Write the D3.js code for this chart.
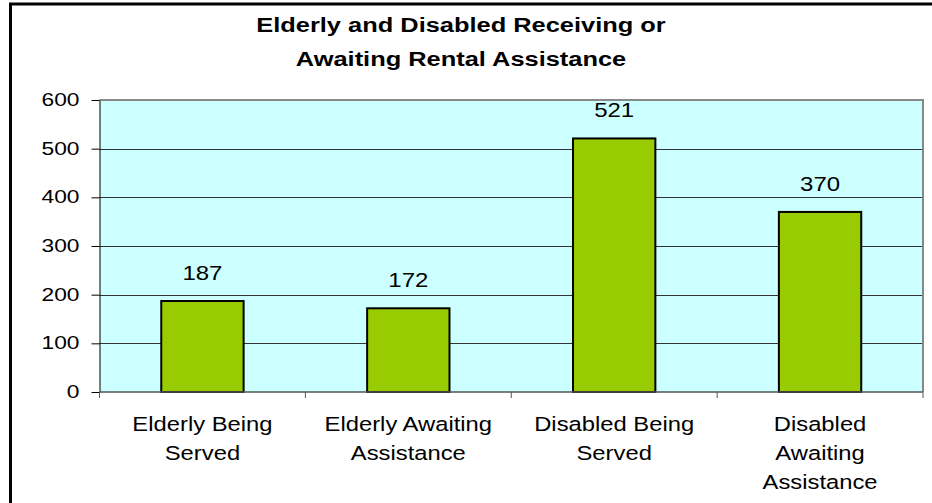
<!DOCTYPE html>
<html>
<head>
<meta charset="utf-8">
<script src="https://cdn.jsdelivr.net/npm/d3@7"></script>
<style>
  html, body { margin: 0; padding: 0; background: #fff; }
  svg { display: block; font-family: Arial, "Liberation Sans", sans-serif; }
</style>
</head>
<body>
<svg id="chart" width="932" height="503"></svg>
<script>
// Data
const categories = [
  ["Elderly Being", "Served"],
  ["Elderly Awaiting", "Assistance"],
  ["Disabled Being", "Served"],
  ["Disabled", "Awaiting", "Assistance"]
];
const values = [187, 172, 521, 370];
const yTicks = [0, 100, 200, 300, 400, 500, 600];
const titleLines = ["Elderly and Disabled Receiving or", "Awaiting Rental Assistance"];

const svg = d3.select("#chart");
const plot = { left: 99.5, right: 923, top: 100, bottom: 392 };
const stretch = 1.22; // wide glyph rendering of the chart text

// Outer chart frame
svg.append("rect")
  .attr("x", 10.5).attr("y", 4)
  .attr("width", 1000).attr("height", 700)
  .attr("fill", "#fff")
  .attr("stroke", "#000").attr("stroke-width", 3);

// Title
titleLines.forEach((t, i) => {
  svg.append("g")
    .attr("transform", `translate(461,${32 + i * 34}) scale(1.24,1)`)
    .append("text")
    .attr("text-anchor", "middle")
    .attr("font-size", 20.5)
    .attr("font-weight", "bold")
    .attr("fill", "#000")
    .text(t);
});

const idx = values.map((_, i) => i);
const x = d3.scaleBand().domain(idx).range([plot.left, plot.right])
  .paddingInner(0.6).paddingOuter(0.3);
const y = d3.scaleLinear().domain([0, 600]).range([plot.bottom, plot.top]);

// Plot area background
svg.append("rect")
  .attr("x", plot.left).attr("y", plot.top)
  .attr("width", plot.right - plot.left).attr("height", plot.bottom - plot.top)
  .attr("fill", "#CCFFFF");

// Gridlines
svg.append("g")
  .selectAll("line")
  .data(yTicks.filter(d => d > 0 && d < 600))
  .join("line")
  .attr("x1", plot.left).attr("x2", plot.right)
  .attr("y1", d => Math.round(y(d)) + 0.5).attr("y2", d => Math.round(y(d)) + 0.5)
  .attr("stroke", "#333").attr("stroke-width", 1);

// Plot area border (top/right)
svg.append("path")
  .attr("d", `M${plot.left},${plot.top}H${plot.right}V${plot.bottom}`)
  .attr("fill", "none").attr("stroke", "#888").attr("stroke-width", 2);

// Bars
svg.append("g")
  .selectAll("rect")
  .data(values)
  .join("rect")
  .attr("x", (d, i) => x(i))
  .attr("y", d => y(d))
  .attr("width", x.bandwidth())
  .attr("height", d => y(0) - y(d))
  .attr("fill", "#99CC00")
  .attr("stroke", "#000").attr("stroke-width", 2);

// Value labels
svg.append("g")
  .selectAll("g")
  .data(values)
  .join("g")
  .attr("transform", (d, i) => `translate(${x(i) + x.bandwidth() / 2},${y(d) - 21}) scale(1.2,1)`)
  .append("text")
  .attr("text-anchor", "middle")
  .attr("font-size", 20)
  .attr("fill", "#000")
  .text(d => d);

// Y axis
const yAxis = svg.append("g")
  .attr("transform", `translate(${plot.left},0)`)
  .call(d3.axisLeft(y).tickValues(yTicks).tickSize(8).tickSizeOuter(0));
yAxis.select(".domain").attr("stroke", "#000");
yAxis.selectAll(".tick line").attr("stroke", "#000");
yAxis.selectAll(".tick text")
  .attr("x", 0)
  .attr("dy", 0)
  .attr("transform", `translate(-20,5.5) scale(1.23,1)`)
  .attr("text-anchor", "end")
  .attr("font-size", 18.5)
  .attr("font-family", "Arial, 'Liberation Sans', sans-serif")
  .attr("fill", "#000");

// X axis with tick marks on the category boundaries
const boundaries = d3.range(categories.length + 1).map(i => plot.left + i * x.step());
svg.append("line")
  .attr("x1", plot.left).attr("x2", plot.right)
  .attr("y1", plot.bottom).attr("y2", plot.bottom)
  .attr("stroke", "#555").attr("stroke-width", 1.5);
svg.append("g")
  .selectAll("line")
  .data(boundaries)
  .join("line")
  .attr("x1", d => d).attr("x2", d => d)
  .attr("y1", plot.bottom).attr("y2", plot.bottom + 6)
  .attr("stroke", "#555").attr("stroke-width", 1);

// Category labels
const catG = svg.append("g")
  .selectAll("g")
  .data(categories)
  .join("g");
catG.each(function(lines, i) {
  const cx = x(i) + x.bandwidth() / 2;
  lines.forEach((ln, j) => {
    d3.select(this).append("g")
      .attr("transform", `translate(${cx},${431 + j * 29}) scale(${stretch},1)`)
      .append("text")
      .attr("text-anchor", "middle")
      .attr("font-size", 19.5)
      .attr("fill", "#000")
      .text(ln);
  });
});
</script>
</body>
</html>
